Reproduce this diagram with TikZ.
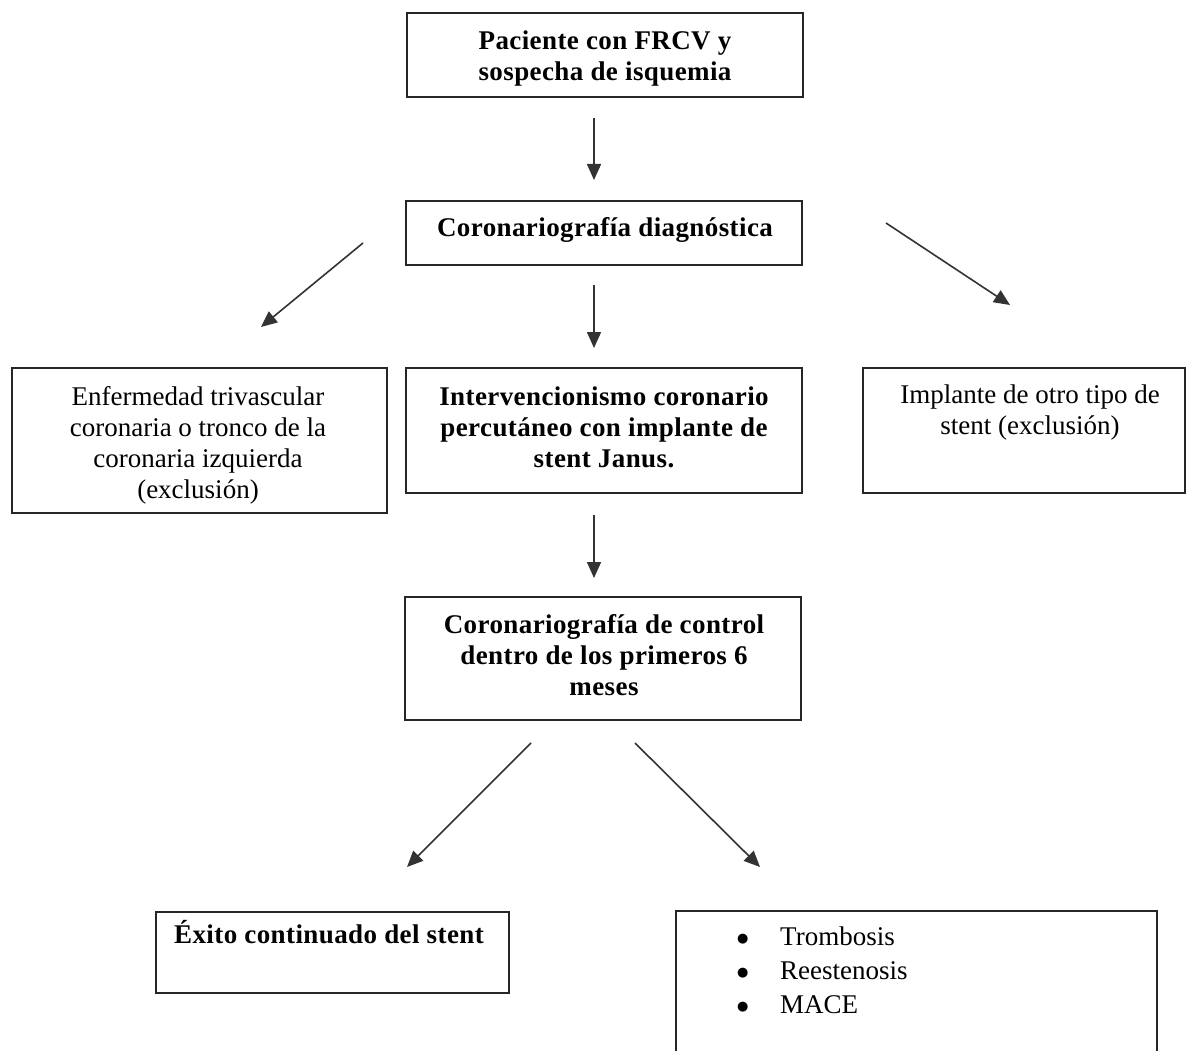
\documentclass[tikz,border=0pt]{standalone}
\usepackage{fontspec}
\setmainfont{Liberation Serif}
\newfontfamily\djv{DejaVu Sans}
\usetikzlibrary{arrows.meta}
\newcommand\tstrut{\vrule height 25pt depth 0pt width 0pt}
\newcommand\bul{\makebox[43pt][l]{\raisebox{3pt}{\djv\fontsize{13}{13}\selectfont ●}}}
\begin{document}
\begin{tikzpicture}[x=1pt,y=-1pt,
  box/.style={draw=black!85, line width=1.4pt, inner sep=0pt},
  txt/.style={inner sep=0pt, align=center, anchor=north, font=\fontsize{27}{31}\selectfont},
  txtb/.style={txt, font=\fontsize{27}{31}\selectfont\bfseries\addfontfeatures{LetterSpace=1.5}},
  arr/.style={draw=black!80, line width=1.6pt, -{Triangle[length=16pt,width=14pt]}}]
\useasboundingbox (0,0) rectangle (1186,1051);
\clip (0,0) rectangle (1186,1051);
\fill[white] (0,0) rectangle (1186,1051);

% boxes
\node[box, minimum width=396pt, minimum height=84pt]  (b1)  at (605,55) {};
\node[box, minimum width=396pt, minimum height=64pt]  (b2)  at (604,233) {};
\node[box, minimum width=375pt, minimum height=145pt] (b3l) at (199.5,440.5) {};
\node[box, minimum width=396pt, minimum height=125pt] (b3c) at (604,430.5) {};
\node[box, minimum width=322pt, minimum height=125pt] (b3r) at (1024,430.5) {};
\node[box, minimum width=396pt, minimum height=123pt] (b4)  at (603,658.5) {};
\node[box, minimum width=353pt, minimum height=81pt]  (b5l) at (332.5,952.5) {};
\node[box, minimum width=481pt, minimum height=169pt] (b5r) at (916.5,995.5) {};

% texts
\node[txtb] (t1) at (605,24) {\tstrut Paciente con FRCV y\\ sospecha de isquemia};
\node[txtb] (t2) at (605,211) {\tstrut Coronariografía diagnóstica};
\node[txt]  (t3l) at (198,380) {\tstrut Enfermedad trivascular\\ coronaria o tronco de la\\ coronaria izquierda\\ (exclusión)};
\node[txtb] (t3c) at (604,380) {\tstrut Intervencionismo coronario\\ percutáneo con implante de\\ stent Janus.};
\node[txt]  (t3r) at (1030,378) {\tstrut Implante de otro tipo de\\ stent (exclusión)};
\node[txtb] (t4) at (604,608) {\tstrut Coronariografía de control\\ dentro de los primeros 6\\ meses};
\node[txtb] (t5l) at (329,918) {\tstrut Éxito continuado del stent};
\node[txt, align=left, anchor=north west, font=\fontsize{27}{34}\selectfont] (t5r) at (737,920)
  {\tstrut\bul Trombosis\\ \bul Reestenosis\\ \bul MACE};

% arrow end points
\coordinate (a1s) at (594,118); \coordinate (a1e) at (594,180);
\coordinate (a2s) at (594,285); \coordinate (a2e) at (594,348);
\coordinate (a3s) at (594,515); \coordinate (a3e) at (594,578);
\coordinate (l1s) at (363,243); \coordinate (l1e) at (261,327);
\coordinate (r1s) at (886,223); \coordinate (r1e) at (1010,305);
\coordinate (l2s) at (531,743); \coordinate (l2e) at (407,867);
\coordinate (r2s) at (635,743); \coordinate (r2e) at (760,867);

\draw[arr] (a1s) -- (a1e);
\draw[arr] (a2s) -- (a2e);
\draw[arr] (a3s) -- (a3e);
\draw[arr] (l1s) -- (l1e);
\draw[arr] (r1s) -- (r1e);
\draw[arr] (l2s) -- (l2e);
\draw[arr] (r2s) -- (r2e);
\end{tikzpicture}
\end{document}
